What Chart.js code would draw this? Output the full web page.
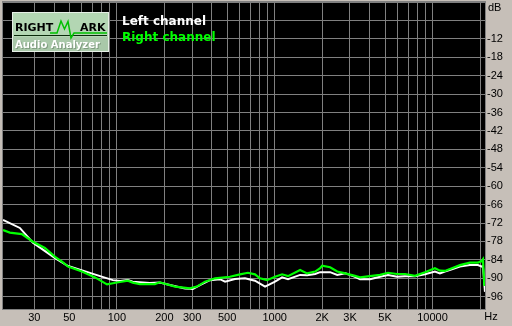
<!DOCTYPE html>
<html>
<head>
<meta charset="utf-8">
<script src="https://cdn.jsdelivr.net/npm/chart.js@4/dist/chart.umd.min.js"></script>
<style>
html,body{margin:0;padding:0;background:#c6bfb8;}
#wrap{width:512px;height:326px;position:relative;}
</style>
</head>
<body>
<div id="wrap"><canvas id="c" width="512" height="326"></canvas></div>
<script>
// ---- data ----
const leftFreq = [19, 24.3, 29.4, 40.6, 49.1, 61, 78.3, 94.4, 105, 117.5, 126, 162, 187, 217, 270, 303, 336, 389, 450, 485, 560, 648, 750, 869, 1005, 1114, 1215, 1449, 1605, 1805, 1941, 2245, 2490, 2800, 3227, 3472, 4019, 4649, 5226, 5957, 6696, 7743, 8958, 10358, 11140, 11981, 13270, 14910, 17247, 19388, 20540, 20860, 21490];
const leftDb   = [-71.0, -73.6, -78.4, -83.4, -86.0, -87.5, -89.3, -90.6, -90.9, -90.6, -91.1, -91.5, -91.4, -92.2, -93.3, -93.5, -92.2, -90.6, -90.3, -91.1, -90.2, -90.0, -90.8, -92.7, -91.1, -89.7, -90.3, -88.9, -89.0, -88.6, -88.0, -88.0, -88.9, -88.4, -89.5, -90.3, -90.3, -89.5, -88.9, -89.5, -89.3, -89.3, -88.7, -87.8, -88.4, -87.8, -87.1, -86.2, -85.7, -85.7, -86.2, -86.0, -94.4];

const rightFreq = [19, 21, 25, 29.4, 35, 40.6, 44.9, 49.1, 60.1, 72.8, 86.6, 94.4, 104.6, 117.5, 126, 140, 174, 187, 234, 290, 321, 362, 419, 521, 603, 677, 750, 807, 895, 1005, 1114, 1215, 1449, 1605, 1805, 1941, 1998, 2245, 2490, 2800, 3227, 3472, 4019, 4649, 5226, 5957, 6696, 7743, 8958, 10358, 11140, 11981, 13270, 14910, 17247, 19388, 20540, 20860, 21300];
const rightDb   = [-74.3, -75.1, -75.6, -78.1, -80.1, -83.0, -84.6, -86.2, -87.8, -89.7, -92.0, -91.6, -91.2, -90.8, -91.4, -91.9, -91.9, -91.3, -92.7, -93.3, -92.7, -91.1, -90.0, -89.5, -88.7, -88.2, -88.7, -90.0, -90.6, -89.5, -88.7, -89.3, -87.3, -88.4, -87.8, -86.7, -85.9, -86.4, -87.8, -88.4, -89.2, -89.7, -89.3, -88.9, -88.2, -88.6, -88.6, -89.2, -88.0, -86.7, -87.5, -87.6, -86.7, -85.7, -84.9, -84.9, -84.3, -83.8, -92.5];

const xGridTicks = [30,40,50,60,70,80,90,100,200,300,400,500,600,700,800,900,1000,2000,3000,4000,5000,6000,7000,8000,9000,10000,20000];
const xTickLabels = {30:'30',50:'50',100:'100',200:'200',300:'300',500:'500',1000:'1000',2000:'2K',3000:'3K',5000:'5K',10000:'10000'};
const yGridTicks = [0,-6,-12,-18,-24,-30,-36,-42,-48,-54,-60,-66,-72,-78,-84,-90,-96];
const yHiddenLabels = [0,-6];
const seriesNames = ['Left channel','Right channel'];

const GRID = '#808080';
const BG = '#c6bfb8';
const tickFont = {family:'"Liberation Sans", Arial, sans-serif', size:11};

const toPts = (fs, ds) => fs.map((f,i)=>({x:f, y:ds[i]}));

const decor = {
  id:'decor',
  beforeDraw(chart){
    const {ctx, chartArea:a} = chart;
    ctx.save();
    ctx.fillStyle = BG;
    ctx.fillRect(0,0,chart.width,chart.height);
    ctx.fillStyle = '#000';
    ctx.fillRect(a.left,a.top,a.right-a.left,a.bottom-a.top);
    ctx.strokeStyle = GRID;
    ctx.lineWidth = 1;
    ctx.strokeRect(a.left-0.5,a.top-0.5,a.right-a.left+1,a.bottom-a.top+1);
    ctx.restore();
  },
  afterDraw(chart){
    const {ctx, chartArea:a} = chart;
    ctx.save();
    // axis unit labels
    ctx.fillStyle = '#000';
    ctx.font = '11px "Liberation Sans", Arial, sans-serif';
    ctx.textBaseline = 'middle';
    ctx.textAlign = 'left';
    ctx.fillText('dB', a.right+3, 8);
    ctx.textAlign = 'center';
    ctx.fillText('Hz', 491, 317);
    // logo
    const lx=12, ly=12, lw=97, lh=40;
    ctx.fillStyle = '#e6efe6';
    ctx.fillRect(lx,ly,lw,lh);
    ctx.fillStyle = '#b3d6b3';
    ctx.fillRect(lx+1,ly+1,lw-2,lh-2);
    ctx.fillStyle = '#a9c8a9';
    ctx.fillRect(lx+1,ly+25,lw-2,lh-26);
    ctx.strokeStyle = '#0a2a0a';
    ctx.lineWidth = 1;
    ctx.beginPath(); ctx.moveTo(lx+2,35.5); ctx.lineTo(lx+lw-2,35.5); ctx.stroke();
    ctx.strokeStyle = '#00c000';
    ctx.lineWidth = 1.5;
    ctx.beginPath();
    ctx.moveTo(50,33); ctx.lineTo(57,33); ctx.lineTo(61,21); ctx.lineTo(64.5,29); ctx.lineTo(68,21.5); ctx.lineTo(71,38); ctx.lineTo(74,33); ctx.lineTo(107,33);
    ctx.stroke();
    ctx.fillStyle = '#000';
    ctx.font = 'bold 11px "DejaVu Sans", Verdana, sans-serif';
    ctx.textAlign = 'left';
    ctx.textBaseline = 'alphabetic';
    ctx.fillText('RIGHT', 15, 31);
    ctx.fillText('ARK', 80, 31);
    ctx.font = 'bold 10px "DejaVu Sans", Verdana, sans-serif';
    ctx.fillStyle = '#7f9a7f';
    ctx.fillText('Audio Analyzer', 16, 49);
    ctx.fillStyle = '#ffffff';
    ctx.fillText('Audio Analyzer', 15, 48);
    // legend
    ctx.font = 'bold 12px "DejaVu Sans", Verdana, sans-serif';
    ctx.textBaseline = 'middle';
    ctx.fillStyle = '#ffffff';
    ctx.fillText(seriesNames[0], 122, 22);
    ctx.fillStyle = '#00ff00';
    ctx.fillText(seriesNames[1], 122, 38);
    ctx.restore();
  }
};

new Chart(document.getElementById('c'), {
  type:'line',
  data:{
    datasets:[
      {label:seriesNames[1], data:toPts(rightFreq,rightDb), borderColor:'#00ff00', borderWidth:2.2, pointRadius:0, tension:0, fill:false, order:0},
      {label:seriesNames[0], data:toPts(leftFreq,leftDb), borderColor:'#ffffff', borderWidth:2, pointRadius:0, tension:0, fill:false, order:1}
    ]
  },
  options:{
    responsive:false,
    animation:false,
    layout:{padding:{left:3,top:2,right:0,bottom:0}},
    plugins:{legend:{display:false}, tooltip:{enabled:false}},
    scales:{
      x:{
        type:'logarithmic', min:19, max:21500,
        afterBuildTicks(s){ s.ticks = xGridTicks.map(v=>({value:v})); },
        afterFit(s){ s.height = 17; s.paddingLeft=0; s.paddingRight=0; },
        grid:{color:GRID, drawTicks:false, lineWidth:1},
        border:{display:true, color:GRID},
        ticks:{autoSkip:false, maxRotation:0, minRotation:0, padding:2, color:'#000', font:tickFont,
          callback:(v)=> xTickLabels[v] || ''}
      },
      y:{
        type:'linear', position:'right', min:-100, max:0,
        afterBuildTicks(s){ s.ticks = yGridTicks.map(v=>({value:v})); },
        afterFit(s){ s.width = 27; s.paddingTop=0; s.paddingBottom=0; },
        grid:{color:GRID, drawTicks:false, lineWidth:1},
        border:{display:true, color:GRID},
        ticks:{autoSkip:false, padding:2, color:'#000', font:tickFont,
          callback:(v)=> yHiddenLabels.includes(v) ? '' : String(v)}
      }
    }
  },
  plugins:[decor]
});
</script>
</body>
</html>
